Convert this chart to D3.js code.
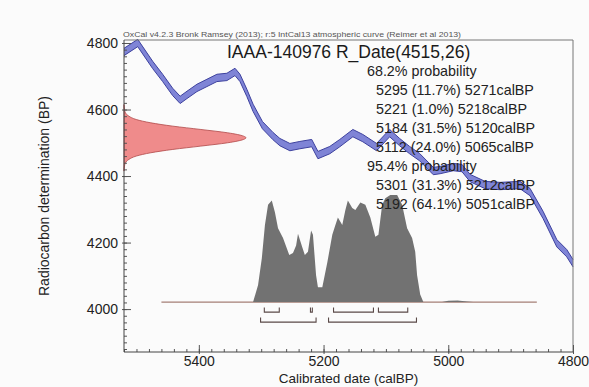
<!DOCTYPE html>
<html><head><meta charset="utf-8">
<script src="https://cdn.jsdelivr.net/npm/d3@7"></script>
<style>
body{margin:0;background:#fbfbfb;}
svg{display:block;font-family:"Liberation Sans",Arial,Helvetica,sans-serif;}
</style>
</head><body>
<svg id="c" width="589" height="387"></svg>
<script>
// ---------- data ----------
const calCurveCal = [5520,5498,5474,5458,5442,5430,5419,5403,5387,5371,5355,5342,5334,5323,5313,5298,5281,5270,5254,5238,5219,5209,5190,5174,5153,5137,5115,5094,5078,5062,5046,5024,5013,4992,4978,4965,4941,4917,4885,4869,4848,4826,4810,4800];
const calCurveBP  = [4773,4800,4734,4695,4653,4629,4644,4665,4680,4695,4698,4713,4695,4650,4605,4553,4520,4502,4487,4493,4499,4463,4478,4499,4529,4514,4487,4529,4502,4478,4457,4415,4418,4427,4424,4394,4373,4370,4373,4352,4283,4198,4168,4138];
const calCurveSigma = 11;

const rDateBP      = [4615,4600,4590,4580,4570,4560,4550,4540,4530,4520,4515,4510,4500,4490,4480,4470,4460,4450,4440,4430,4415];
const rDateDensity = [0,0.004,0.012,0.04,0.1,0.22,0.4,0.63,0.85,0.98,1,0.98,0.85,0.63,0.4,0.22,0.1,0.04,0.012,0.004,0];

const postCal     = [5313,5305,5299,5294,5289,5283,5278,5273,5265,5255,5249,5244,5241,5234,5230,5225,5220,5217,5212,5209,5202,5194,5186,5181,5177,5170,5165,5161,5154,5149,5141,5133,5125,5117,5112,5106,5101,5093,5082,5074,5066,5058,5053,5050,5045,5040,5010,5000,4985,4970,4960];
const postDensity = [0,0.16,0.41,0.72,0.91,0.95,0.84,0.69,0.60,0.44,0.46,0.53,0.64,0.51,0.44,0.47,0.67,0.63,0.25,0.14,0.14,0.37,0.63,0.72,0.79,0.72,0.86,0.95,0.88,0.86,0.93,0.91,0.79,0.61,0.63,0.91,0.97,1.0,1.0,0.91,0.69,0.60,0.47,0.25,0.07,0,0,0.012,0.015,0.005,0];
const postBaselineBP = 4021;
const postExtent = [5460, 4858];

const range68 = [[5295,5271],[5221,5218],[5184,5120],[5112,5065]];
const range95 = [[5301,5212],[5192,5051]];

const xTicks = [5400,5200,5000,4800];
const yTicks = [4000,4200,4400,4600,4800];
const xDomain = [5520, 4800];
const yDomain = [3871, 4809];

const captionText = "OxCal v4.2.3 Bronk Ramsey (2013); r:5 IntCal13 atmospheric curve (Reimer et al 2013)";
const titleText = "IAAA-140976 R_Date(4515,26)";
const probLines = [
  ["68.2% probability", 0],
  ["5295 (11.7%) 5271calBP", 1],
  ["5221 (1.0%) 5218calBP", 1],
  ["5184 (31.5%) 5120calBP", 1],
  ["5112 (24.0%) 5065calBP", 1],
  ["95.4% probability", 0],
  ["5301 (31.3%) 5212calBP", 1],
  ["5192 (64.1%) 5051calBP", 1]
];
const xLabel = "Calibrated date (calBP)";
const yLabel = "Radiocarbon determination (BP)";

// ---------- layout ----------
const L = 124, R = 573, T = 40, B = 352;
const svg = d3.select("#c");
svg.append("rect").attr("width",589).attr("height",387).attr("fill","#fbfbfb");

const x = d3.scaleLinear().domain(xDomain).range([L, R]);
const y = d3.scaleLinear().domain(yDomain).range([B, T]);

// posterior (gray)
const yBase = y(postBaselineBP);
const hScale = d3.scaleLinear().domain([0,1]).range([yBase, yBase-107]);
svg.append("line")
  .attr("x1", x(postExtent[0])).attr("x2", x(postExtent[1]))
  .attr("y1", yBase).attr("y2", yBase)
  .attr("stroke","#a57f76").attr("stroke-width",1.3);
const postData = postCal.map((c,i)=>({c, d: postDensity[i]}));
svg.append("path").datum(postData)
  .attr("fill","#727272")
  .attr("d", d3.area().x(d=>x(d.c)).y0(yBase).y1(d=>hScale(d.d)));

// brackets
function brackets(ranges, yy){
  ranges.forEach(r=>{
    const x1 = x(r[0]), x2 = x(r[1]);
    svg.append("path")
      .attr("d", `M${x1},${yy-4.5}V${yy}H${x2}V${yy-4.5}`)
      .attr("fill","none").attr("stroke","#5b4a48").attr("stroke-width",1.1);
  });
}
brackets(range68, y(4000)+3);
brackets(range95, y(4000)+13);

// calibration curve band
const curve = calCurveCal.map((c,i)=>({c, b: calCurveBP[i]}));
svg.append("path").datum(curve)
  .attr("fill","#7f84d6")
  .attr("d", d3.area().x(d=>x(d.c)).y0(d=>y(d.b-calCurveSigma)).y1(d=>y(d.b+calCurveSigma)));
[-1,1].forEach(s=>{
  svg.append("path").datum(curve)
    .attr("fill","none").attr("stroke","#3d419e").attr("stroke-width",1)
    .attr("d", d3.line().x(d=>x(d.c)).y(d=>y(d.b+s*calCurveSigma)));
});

// radiocarbon date (red)
const wScale = d3.scaleLinear().domain([0,1]).range([L, L+122]);
const rData = rDateBP.map((b,i)=>({b, d: rDateDensity[i]}));
svg.append("path").datum(rData)
  .attr("fill","#ef8b8b").attr("stroke","#b04848").attr("stroke-width",0.8)
  .attr("d", d3.area().curve(d3.curveMonotoneY).y(d=>y(d.b)).x0(L).x1(d=>wScale(d.d)));

// frame
svg.append("path").attr("d",`M${L},${T}H${R}V${B}`).attr("fill","none").attr("stroke","#777").attr("stroke-width",1);

// axes
const minorX = d3.range(5520, 4799, -20);
const gx = svg.append("g").attr("transform",`translate(0,${B})`);
gx.call(d3.axisBottom(x).tickValues(minorX).tickSize(-3).tickFormat(""));
gx.call(g=>g.append("g").call(d3.axisBottom(x).tickValues(xTicks).tickSize(-7).tickFormat(d3.format("d"))));
gx.call(g=>g.append("g").call(d3.axisBottom(x).tickValues(xTicks).tickSize(2).tickFormat("")));
gx.selectAll(".domain").remove();
gx.selectAll("line").attr("stroke","#555");
gx.selectAll("text").attr("y",14).attr("dy",0).attr("font-size",14).attr("fill","#222").attr("font-family",null);

const minorY = d3.range(3880, 4810, 20);
const gy = svg.append("g").attr("transform",`translate(${L},0)`);
gy.call(d3.axisLeft(y).tickValues(minorY).tickSize(-3).tickFormat(""));
gy.call(g=>g.append("g").call(d3.axisLeft(y).tickValues(yTicks).tickSize(-7).tickFormat(d3.format("d"))));
gy.call(g=>g.append("g").call(d3.axisLeft(y).tickValues(yTicks).tickSize(2).tickFormat("")));
gy.selectAll(".domain").remove();
gy.selectAll("line").attr("stroke","#555");
gy.selectAll("text").attr("x",-6).attr("dy","0.35em").attr("font-size",14).attr("fill","#222").attr("font-family",null);

svg.append("line").attr("x1",L).attr("x2",L).attr("y1",T).attr("y2",B).attr("stroke","#444");
svg.append("line").attr("x1",L).attr("x2",R).attr("y1",B).attr("y2",B).attr("stroke","#444");

// texts
svg.append("text").attr("x",123).attr("y",37).attr("font-size",8).attr("fill","#555")
  .attr("textLength",338).attr("lengthAdjust","spacingAndGlyphs").text(captionText);
svg.append("text").attr("x",227).attr("y",58).attr("font-size",17.5).attr("fill","#1a1a1a").text(titleText);
probLines.forEach((p,i)=>{
  svg.append("text").attr("x", p[1] ? 376 : 367).attr("y", 76 + i*19)
    .attr("font-size",14.3).attr("fill","#222").text(p[0]);
});
svg.append("text").attr("x",(L+R)/2).attr("y",383).attr("text-anchor","middle")
  .attr("font-size",13.5).attr("fill","#222").text(xLabel);
svg.append("text").attr("transform",`translate(49,${(T+B)/2}) rotate(-90)`).attr("text-anchor","middle")
  .attr("font-size",14).attr("fill","#222").text(yLabel);
</script>
</body></html>
